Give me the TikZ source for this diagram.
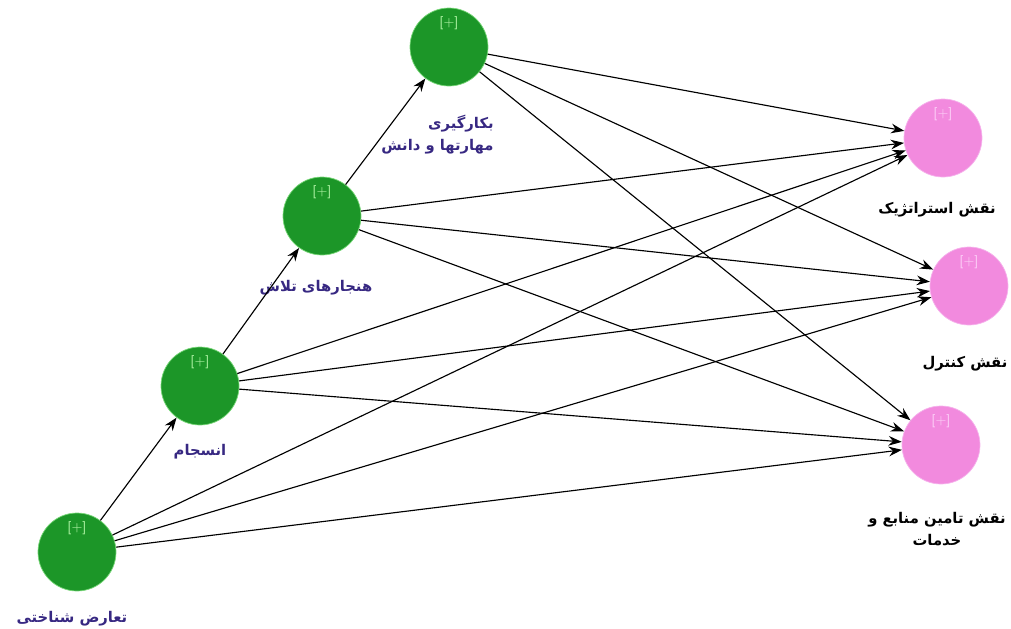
\documentclass[tikz,border=0pt]{standalone}
\usepackage{fontspec}
\usepackage{tikz}
\usetikzlibrary{arrows.meta}
\newfontfamily\farsifont[Script=Arabic]{DejaVu Sans}
\TeXXeTstate=1
\definecolor{latentgreen}{RGB}{28,150,40}
\definecolor{latentrim}{RGB}{120,215,120}
\definecolor{plusgreen}{RGB}{170,240,160}
\definecolor{targetpink}{RGB}{242,138,222}
\definecolor{targetrim}{RGB}{246,178,236}
\definecolor{pluspink}{RGB}{252,205,246}
\definecolor{namegreen}{RGB}{55,40,130}
\tikzset{
  every label/.style={
    font=\farsifont\bfseries\fontsize{8.4}{12.5}\selectfont
  },
  construct/.style={
    shape=circle,
    minimum size=1.56cm,
    inner sep=0pt,
    thin
  },
  predictor/.style n args={2}{
    construct,
    draw=latentrim,
    fill=latentgreen,
    label={[font=\sffamily\fontsize{7.5}{8}\selectfont,text=plusgreen,yshift=0.48cm]center:{[+]}},
    label={[text=namegreen,align=right,label distance=0.38cm,#2]below:#1}
  },
  outcome/.style n args={2}{
    construct,
    draw=targetrim,
    fill=targetpink,
    label={[font=\sffamily\fontsize{7.5}{8}\selectfont,text=pluspink,yshift=0.48cm]center:{[+]}},
    label={[text=black,align=right,label distance=0.38cm,#2]below:#1}
  },
  link/.style={
    -{Stealth[length=7.5pt,width=5.5pt]},
    line width=0.65pt
  }
}

\begin{document}
\begin{tikzpicture}[x=0.2mm,y=-0.2mm]
\useasboundingbox (0,0) rectangle (1011,628);

% constructs on the left
\node [predictor={\beginR تعارض شناختی\endR}{xshift=-0.1cm,yshift=0.1cm}] (conflict) at (77,552) {};
\node [predictor={\beginR انسجام\endR}{yshift=0.12cm}] (cohesion) at (200,386) {};
\node [predictor={\beginR هنجارهای تلاش\endR}{xshift=-0.12cm}] (norms) at (322,216) {};
\node [predictor={\beginR بکارگیری\endR\\\beginR مهارتها و دانش\endR}{xshift=-0.23cm,yshift=-0.08cm}] (skills) at (449,47) {};

% roles on the right
\node [outcome={\beginR نقش استراتژیک\endR}{xshift=-0.12cm}] (strategic) at (943,138) {};
\node [outcome={\beginR نقش کنترل\endR}{xshift=-0.08cm,yshift=-0.12cm}] (control) at (969,286) {};
\node [outcome={\beginR نقش تامین منابع و\endR\\\beginR خدمات\endR}{xshift=-0.08cm,yshift=-0.06cm,align=center}] (service) at (941,445) {};

% chain
\draw [link] (conflict) -- (cohesion);
\draw [link] (cohesion) -- (norms);
\draw [link] (norms) -- (skills);

% paths to the roles
\draw [link] (conflict) -- (strategic);
\draw [link] (conflict) -- (control);
\draw [link] (conflict) -- (service);
\draw [link] (cohesion) -- (strategic);
\draw [link] (cohesion) -- (control);
\draw [link] (cohesion) -- (service);
\draw [link] (norms) -- (strategic);
\draw [link] (norms) -- (control);
\draw [link] (norms) -- (service);
\draw [link] (skills) -- (strategic);
\draw [link] (skills) -- (control);
\draw [link] (skills) -- (service);

\end{tikzpicture}
\end{document}
